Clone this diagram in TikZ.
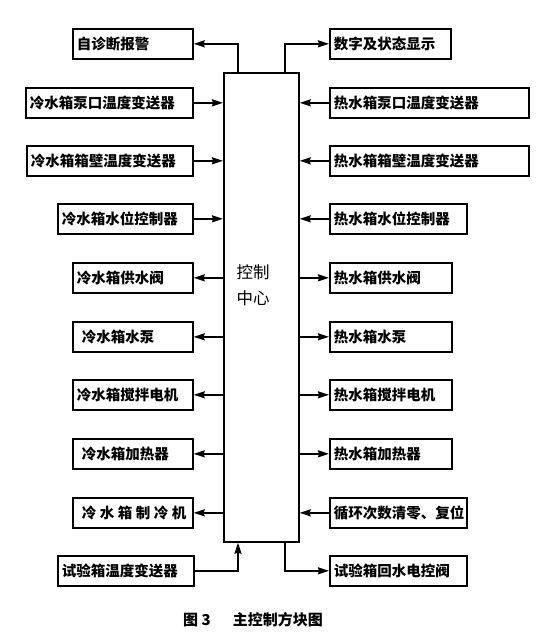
\documentclass[tikz,border=0pt]{standalone}
\usepackage{fontspec}
\newfontfamily\cjk{Noto Sans CJK SC}
\usetikzlibrary{arrows.meta}
\begin{document}
\begin{tikzpicture}[x=1pt,y=-1pt,
  every node/.style={font=\cjk\bfseries\fontsize{14.5}{17}\selectfont},
  box/.style={draw,line width=1.7pt,anchor=north west,minimum height=30pt,inner xsep=4pt,inner ysep=0pt,align=left},
  arr/.style={line width=1.6pt,-{Stealth[length=11pt,width=7pt,inset=1pt]}}]
\useasboundingbox[fill=white] (0,0) rectangle (557,642);
% central box
\node[draw,line width=1.7pt,anchor=north west,minimum width=75pt,minimum height=469pt,inner sep=0pt] (c) at (223,72) {};
\node[font=\cjk\fontsize{16.5}{26}\selectfont,align=center] (ct) at (253,285) {控制\\中心};
% left boxes
\node[box,text width=112pt] (l1) at (72,28) {自诊断报警};
\node[box,text width=159pt] (l2) at (25,87) {冷水箱泵口温度变送器};
\node[box,text width=158pt] (l3) at (26,145) {冷水箱箱壁温度变送器};
\node[box,text width=127pt] (l4) at (57,203) {冷水箱水位控制器};
\node[box,text width=112pt] (l5) at (72,262) {冷水箱供水阀};
\node[box,text width=112pt] (l6) at (72,321) {\hspace*{5pt}冷水箱水泵};
\node[box,text width=112pt] (l7) at (72,379) {冷水箱搅拌电机};
\node[box,text width=112pt] (l8) at (72,438) {\hspace*{5pt}冷水箱加热器};
\node[box,text width=112pt] (l9) at (72,497) {\hspace*{5pt}冷\hspace{3.5pt}水\hspace{3.5pt}箱\hspace{3.5pt}制\hspace{3.5pt}冷\hspace{3.5pt}机};
\node[box,text width=128pt] (l10) at (57,555) {试验箱温度变送器};
% right boxes
\node[box,text width=113pt] (r1) at (329,28) {数字及状态显示};
\node[box,text width=191pt] (r2) at (329,87) {热水箱泵口温度变送器};
\node[box,text width=191pt] (r3) at (329,145) {热水箱箱壁温度变送器};
\node[box,text width=129pt] (r4) at (329,203) {热水箱水位控制器};
\node[box,text width=114pt] (r5) at (329,262) {热水箱供水阀};
\node[box,text width=114pt] (r6) at (329,321) {热水箱水泵};
\node[box,text width=114pt] (r7) at (329,379) {热水箱搅拌电机};
\node[box,text width=114pt] (r8) at (329,438) {热水箱加热器};
\node[box,text width=129pt] (r9) at (329,497) {循环次数清零、复位};
\node[box,text width=129pt] (r10) at (329,555) {试验箱回水电控阀};
% connectors left
\draw[arr] ([xshift=15pt]c.north west) |- (l1.east);
\draw[arr] (l2.east) -- (l2.east -| c.west);
\draw[arr] (l3.east) -- (l3.east -| c.west);
\draw[arr] (l4.east) -- (l4.east -| c.west);
\draw[arr] (c.west |- l5.east) -- (l5.east);
\draw[arr] (c.west |- l6.east) -- (l6.east);
\draw[arr] (c.west |- l7.east) -- (l7.east);
\draw[arr] (c.west |- l8.east) -- (l8.east);
\draw[arr] (c.west |- l9.east) -- (l9.east);
\draw[arr] (l10.east) -| ([xshift=15pt]c.south west);
% connectors right
\draw[arr] ([xshift=-15pt]c.north east) |- (r1.west);
\draw[arr] (r2.west) -- (r2.west -| c.east);
\draw[arr] (r3.west) -- (r3.west -| c.east);
\draw[arr] (r4.west) -- (r4.west -| c.east);
\draw[arr] (c.east |- r5.west) -- (r5.west);
\draw[arr] (c.east |- r6.west) -- (r6.west);
\draw[arr] (c.east |- r7.west) -- (r7.west);
\draw[arr] (c.east |- r8.west) -- (r8.west);
\draw[arr] (r9.west) -- (r9.west -| c.east);
\draw[arr] ([xshift=-15pt]c.south east) |- (r10.west);
% caption
\node[anchor=west,inner sep=0pt,font=\cjk\bfseries\fontsize{15}{18}\selectfont] (cap) at (183,620) {图 3\hspace{22pt}主控制方块图};
\end{tikzpicture}
\end{document}
